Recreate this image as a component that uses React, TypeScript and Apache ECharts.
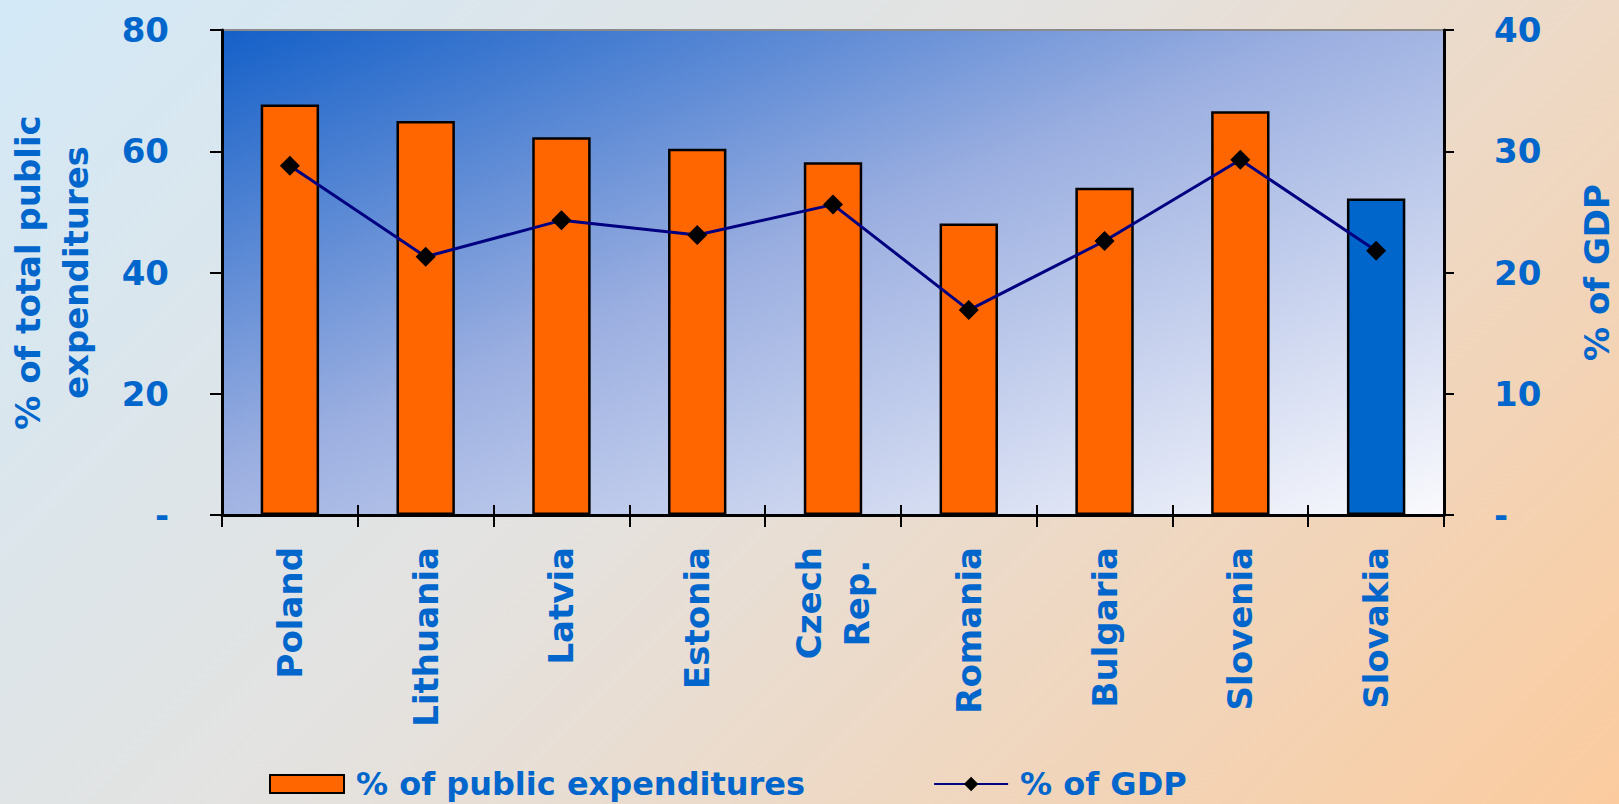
import React, { useEffect, useRef } from "react";
import * as echarts from "echarts";

const categories = ["Poland", "Lithuania", "Latvia", "Estonia", "Czech\nRep.", "Romania", "Bulgaria", "Slovenia", "Slovakia"];
const publicExpenditures = [67.7, 65.0, 62.3, 60.4, 58.2, 48.1, 54.0, 66.6, 52.2];
const gdpShare = [28.8, 21.3, 24.3, 23.1, 25.6, 16.9, 22.6, 29.3, 21.8];
const highlighted = "Slovakia";

const seriesNames = ["% of public expenditures", "% of GDP"];
const leftAxisTitle = "% of total public\nexpenditures";
const rightAxisTitle = "% of GDP";

const BLUE_TEXT = "#0066cc";
const FONT = "DejaVu Sans";

export default function App() {
  const ref = useRef<HTMLDivElement>(null);

  useEffect(() => {
    document.body.style.margin = "0";
    const chart = echarts.init(ref.current!, null, { renderer: "svg" });
    const labelStyle = {
      color: BLUE_TEXT,
      fontFamily: FONT,
      fontWeight: "bold" as const,
      fontSize: 34,
    };
    chart.setOption({
      animation: false,
      backgroundColor: "transparent",
      grid: {
        left: 222,
        right: 175,
        top: 30,
        bottom: 289,
        containLabel: false,
        outerBoundsMode: "none",
        show: true,
        borderColor: "#8a8a8a",
        borderWidth: 2,
        backgroundColor: new echarts.graphic.LinearGradient(0, 0, 1, 1, [
          { offset: 0, color: "#1460c8" },
          { offset: 0.45, color: "#9aaee0" },
          { offset: 1, color: "#fafafd" },
        ]),
      },
      legend: {
        left: 264,
        top: 763,
        itemWidth: 74,
        itemHeight: 18,
        itemGap: 128,
        textStyle: { ...labelStyle, fontSize: 32, padding: [0, 0, 0, 7] },
        data: [
          { name: seriesNames[0], icon: "rect", itemStyle: { borderColor: "#000", borderWidth: 2 } },
          { name: seriesNames[1] },
        ],
      },
      xAxis: [
        {
          type: "category",
          data: categories,
          position: "bottom",
          axisLine: { lineStyle: { color: "#000", width: 3 } },
          axisTick: { show: true, length: 12, lineStyle: { color: "#000", width: 2 } },
          axisLabel: {
            ...labelStyle,
            rotate: 90,
            margin: 32,
            interval: 0,
            formatter: (v: string) => v.split("\n").map((s) => `{c|${s}}`).join("\n"),
            rich: {
              c: { ...labelStyle, align: "center", lineHeight: 48 },
            },
          },
        },
        {
          type: "category",
          data: categories,
          position: "bottom",
          axisLine: { show: false },
          axisTick: { show: true, inside: true, length: 10, lineStyle: { color: "#000", width: 2 } },
          axisLabel: { show: false },
        },
      ],
      yAxis: [
        {
          type: "value",
          min: 0,
          max: 80,
          interval: 20,
          position: "left",
          name: leftAxisTitle,
          nameLocation: "middle",
          nameRotate: 90,
          nameGap: 122,
          nameTextStyle: { ...labelStyle, lineHeight: 48 },
          axisLine: { show: true, lineStyle: { color: "#000", width: 3 } },
          axisTick: { show: true, length: 12, lineStyle: { color: "#000", width: 2 } },
          splitLine: { show: false },
          axisLabel: { ...labelStyle, margin: 53, formatter: (v: number) => (v === 0 ? "-" : String(v)) },
        },
        {
          type: "value",
          min: 0,
          max: 40,
          interval: 10,
          position: "right",
          name: rightAxisTitle,
          nameLocation: "middle",
          nameRotate: 90,
          nameGap: 136,
          nameTextStyle: { ...labelStyle },
          axisLine: { show: true, lineStyle: { color: "#000", width: 3 } },
          axisTick: { show: true, length: 10, lineStyle: { color: "#000", width: 2 } },
          splitLine: { show: false },
          axisLabel: { ...labelStyle, margin: 50, formatter: (v: number) => (v === 0 ? "-" : String(v)) },
        },
      ],
      series: [
        {
          name: seriesNames[0],
          type: "bar",
          xAxisIndex: 0,
          yAxisIndex: 0,
          barWidth: "43%",
          itemStyle: { color: "#ff6600", borderColor: "#000", borderWidth: 2.5 },
          data: publicExpenditures.map((v, i) =>
            categories[i] === highlighted ? { value: v, itemStyle: { color: "#0066cc" } } : v
          ),
        },
        {
          name: seriesNames[1],
          type: "line",
          xAxisIndex: 0,
          yAxisIndex: 1,
          symbol: "diamond",
          symbolSize: 20,
          lineStyle: { color: "#000080", width: 3 },
          itemStyle: { color: "#000" },
          data: gdpShare,
        },
      ],
    });
    return () => chart.dispose();
  }, []);

  return (
    <div
      style={{
        position: "fixed",
        left: 0,
        top: 0,
        width: 1619,
        height: 804,
        background: "linear-gradient(135deg, #d3e9f7 0%, #e4e2df 45%, #fbcb9e 100%)",
      }}
    >
      <div ref={ref} style={{ width: 1619, height: 804 }} />
    </div>
  );
}
